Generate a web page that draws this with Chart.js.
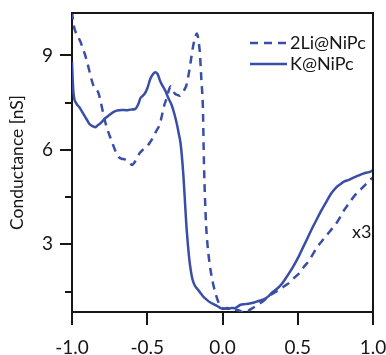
<!DOCTYPE html>
<html>
<head>
<meta charset="utf-8">
<script src="https://cdn.jsdelivr.net/npm/chart.js@4/dist/chart.umd.min.js"></script>
<style>
  html, body { margin: 0; padding: 0; background: #fff; }
  #wrap { width: 386px; height: 355px; }
</style>
</head>
<body>
<div id="wrap"><canvas id="chart" width="386" height="355"></canvas></div>
<script>
// Data (bias [V] vs conductance [nS])
// ================================================================================
let li_x = [-1.0, -0.99, -0.98, -0.96, -0.945, -0.93, -0.915, -0.90, -0.88, -0.865,
	-0.85, -0.835, -0.825, -0.81, -0.79, -0.77, -0.75, -0.73, -0.71, -0.69,
	-0.67, -0.65, -0.63, -0.61, -0.60, -0.585, -0.57, -0.55, -0.53, -0.50,
	-0.48, -0.46, -0.44, -0.415, -0.40, -0.385, -0.37, -0.355, -0.345, -0.33,
	-0.315, -0.30, -0.285, -0.27, -0.255, -0.24, -0.225, -0.21, -0.195, -0.18,
	-0.17, -0.16, -0.15, -0.14, -0.13, -0.125, -0.12, -0.115, -0.11, -0.10,
	-0.09, -0.08, -0.065, -0.05, -0.03, -0.01, 0.01, 0.03, 0.05, 0.07,
	0.09, 0.11, 0.13, 0.15, 0.17, 0.19, 0.21, 0.24, 0.27, 0.30,
	0.33, 0.36, 0.39, 0.42, 0.45, 0.48, 0.51, 0.54, 0.57, 0.60,
	0.63, 0.66, 0.69, 0.72, 0.75, 0.78, 0.81, 0.84, 0.87, 0.90,
	0.93, 0.96, 0.98, 1.0];
let li_y = [10.4, 10.0, 9.8, 9.6, 9.45, 9.25, 9.05, 8.8, 8.42, 8.15,
	7.95, 7.9, 7.82, 7.55, 7.1, 6.73, 6.45, 6.2, 5.95, 5.78,
	5.72, 5.7, 5.65, 5.55, 5.52, 5.6, 5.73, 5.9, 6.0, 6.12,
	6.25, 6.41, 6.6, 6.84, 7.15, 7.45, 7.65, 7.92, 8.02, 7.9,
	7.78, 7.75, 7.72, 7.8, 7.9, 8.05, 8.4, 8.85, 9.3, 9.6,
	9.7, 9.5, 9.05, 8.2, 7.3, 6.0, 5.0, 4.3, 3.7, 3.0,
	2.55, 2.2, 1.8, 1.5, 1.2, 1.02, 0.95, 0.98, 0.97, 0.95,
	0.92, 0.9, 0.85, 0.82, 0.88, 0.95, 1.0, 1.1, 1.19, 1.32,
	1.42, 1.51, 1.6, 1.7, 1.8, 1.95, 2.08, 2.28, 2.45, 2.68,
	2.92, 3.1, 3.28, 3.45, 3.62, 3.85, 4.1, 4.3, 4.5, 4.66,
	4.8, 4.95, 5.05, 5.12];

let k_x = [-1.0, -0.995, -0.99, -0.97, -0.95, -0.925, -0.90, -0.88, -0.86, -0.845,
	-0.83, -0.81, -0.78, -0.75, -0.72, -0.70, -0.67, -0.64, -0.61, -0.58,
	-0.56, -0.545, -0.53, -0.515, -0.50, -0.48, -0.46, -0.445, -0.43, -0.415,
	-0.40, -0.38, -0.36, -0.34, -0.32, -0.30, -0.29, -0.28, -0.27, -0.26,
	-0.25, -0.24, -0.23, -0.22, -0.21, -0.20, -0.185, -0.17, -0.15, -0.13,
	-0.10, -0.08, -0.06, -0.04, -0.02, 0.0, 0.02, 0.04, 0.06, 0.08,
	0.10, 0.12, 0.15, 0.18, 0.21, 0.24, 0.27, 0.30, 0.33, 0.36,
	0.39, 0.42, 0.45, 0.48, 0.51, 0.54, 0.57, 0.60, 0.63, 0.66,
	0.69, 0.72, 0.75, 0.78, 0.81, 0.84, 0.87, 0.90, 0.93, 0.96,
	0.98, 1.0];
let k_y = [8.8, 8.2, 7.8, 7.47, 7.35, 7.15, 6.95, 6.8, 6.75, 6.72,
	6.78, 6.85, 7.0, 7.12, 7.22, 7.25, 7.27, 7.26, 7.28, 7.3,
	7.45, 7.65, 7.72, 7.8, 7.95, 8.25, 8.42, 8.47, 8.4, 8.2,
	8.05, 7.88, 7.65, 7.45, 7.15, 6.75, 6.5, 6.25, 5.8, 5.2,
	4.4, 3.6, 3.0, 2.5, 2.15, 1.9, 1.7, 1.6, 1.48, 1.35,
	1.22, 1.15, 1.1, 1.05, 1.0, 0.95, 0.96, 0.95, 0.98, 0.97,
	1.02, 1.08, 1.1, 1.12, 1.15, 1.2, 1.24, 1.33, 1.47, 1.58,
	1.72, 1.92, 2.14, 2.38, 2.65, 2.95, 3.25, 3.55, 3.83, 4.1,
	4.35, 4.6, 4.78, 4.9, 5.0, 5.05, 5.12, 5.18, 5.24, 5.28,
	5.3, 5.36];

let series_labels = ["2Li@NiPc", "K@NiPc"];
let x_ticks = [-1.0, -0.5, 0.0, 0.5, 1.0];
let y_ticks = [3, 6, 9];
let y_minor_ticks = [1.5, 4.5, 7.5];

// Styles
// ================================================================================
let blue = '#3a4ea8';
let ink = '#161616';
let font_family = 'Lato, "Open Sans", sans-serif';

let to_points = (xs, ys) => xs.map((x, i) => ({x: x, y: ys[i]}));

// Helpers: box frame, minor ticks, in-plot legend and "x3" note
// ================================================================================
let frame_plugin = {
	id: 'frame',
	afterDraw(chart) {
		let ctx = chart.ctx;
		let a = chart.chartArea;
		let ys = chart.scales.y;
		ctx.save();
		ctx.strokeStyle = ink;
		ctx.lineWidth = 2;
		ctx.beginPath();
		ctx.moveTo(a.left, a.top);
		ctx.lineTo(a.right, a.top);
		ctx.lineTo(a.right, a.bottom);
		ctx.stroke();

		// minor y ticks (shorter)
		y_minor_ticks.forEach(v => {
			let py = Math.round(ys.getPixelForValue(v));
			ctx.beginPath();
			ctx.moveTo(a.left - 7, py);
			ctx.lineTo(a.left, py);
			ctx.stroke();
		});

		// legend
		ctx.font = '18px ' + font_family;
		ctx.textBaseline = 'middle';
		ctx.textAlign = 'left';
		chart.data.datasets.forEach((ds, i) => {
			let ly = a.top + 30 + i * 21;
			let lx = a.right - 123;
			ctx.strokeStyle = ds.borderColor;
			ctx.lineWidth = ds.borderWidth;
			ctx.setLineDash(ds.borderDash || []);
			ctx.beginPath();
			ctx.moveTo(lx, ly);
			ctx.lineTo(lx + 37, ly);
			ctx.stroke();
			ctx.setLineDash([]);
			ctx.fillStyle = ink;
			ctx.fillText(ds.label, lx + 40, ly);
		});

		// scale note
		let xs = chart.scales.x;
		ctx.fillText('x3', xs.getPixelForValue(0.86), ys.getPixelForValue(3.4));
		ctx.restore();
	}
};

let no_pad = s => {
	s.paddingTop = 0;
	s.paddingBottom = 0;
	s.paddingLeft = 0;
	s.paddingRight = 0;
};

new Chart(document.getElementById('chart'), {
	type: 'line',
	data: {
		datasets: [
			{
				label: series_labels[0],
				data: to_points(li_x, li_y),
				borderColor: blue,
				borderWidth: 2.5,
				borderDash: [8, 6],
				pointRadius: 0,
				cubicInterpolationMode: 'monotone',
				fill: false
			},
			{
				label: series_labels[1],
				data: to_points(k_x, k_y),
				borderColor: blue,
				borderWidth: 2.5,
				pointRadius: 0,
				cubicInterpolationMode: 'monotone',
				fill: false
			}
		]
	},
	options: {
		responsive: false,
		animation: false,
		devicePixelRatio: 1,
		layout: { padding: { top: 13, right: 13, left: 0, bottom: 0 } },
		plugins: {
			legend: { display: false },
			tooltip: { enabled: false }
		},
		scales: {
			x: {
				type: 'linear',
				min: -1,
				max: 1,
				afterFit: s => { s.height = 43; no_pad(s); },
				afterBuildTicks: s => { s.ticks = x_ticks.map(v => ({value: v})); },
				ticks: {
					callback: v => v.toFixed(1),
					font: { family: font_family, size: 19 },
					color: ink,
					padding: 11,
					maxRotation: 0
				},
				grid: { drawOnChartArea: false, tickLength: 13, color: ink, lineWidth: 2 },
				border: { color: ink, width: 2 }
			},
			y: {
				type: 'linear',
				min: 0.85,
				max: 10.35,
				afterFit: s => { s.width = 72; no_pad(s); },
				afterBuildTicks: s => { s.ticks = y_ticks.map(v => ({value: v})); },
				ticks: {
					callback: v => String(v),
					font: { family: font_family, size: 19 },
					color: ink,
					padding: 7
				},
				grid: { drawOnChartArea: false, tickLength: 12, color: ink, lineWidth: 2 },
				border: { color: ink, width: 2 },
				title: {
					display: true,
					text: 'Conductance [nS]',
					font: { family: font_family, size: 17.5 },
					color: ink,
					padding: { top: 7, bottom: 0 }
				}
			}
		}
	},
	plugins: [frame_plugin]
});
</script>
</body>
</html>
